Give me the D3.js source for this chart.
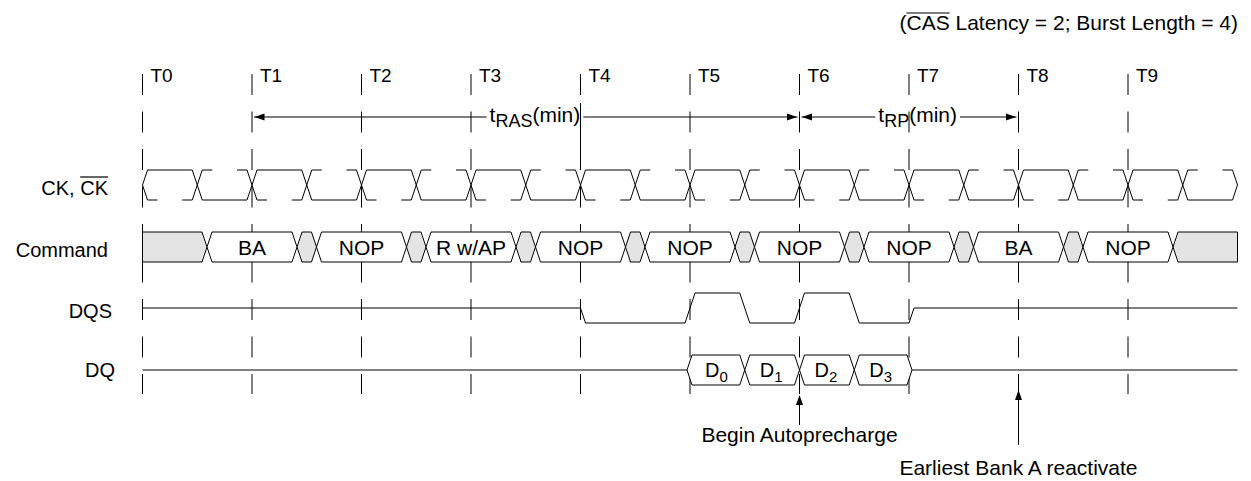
<!DOCTYPE html>
<html>
<head>
<meta charset="utf-8">
<script src="https://cdn.jsdelivr.net/npm/d3@7"></script>
<style>
  body { margin: 0; background: #fff; }
  svg text { font-family: "Liberation Sans", Arial, Helvetica, sans-serif; fill: #000; }
</style>
</head>
<body>
<div id="chart"></div>
<script>
// ---- data ----
const clockLabels = ['T0', 'T1', 'T2', 'T3', 'T4', 'T5', 'T6', 'T7', 'T8', 'T9'];
const commandCycles = [1, 2, 3, 4, 5, 6, 7, 8, 9];
const commands = ['BA', 'NOP', 'R w/AP', 'NOP', 'NOP', 'NOP', 'NOP', 'BA', 'NOP'];
const dqsCycles = [0, 4, 5, 5.5, 6, 6.5, 7];
const dqsStates = ['z', '0', '1', '0', '1', '0', 'z'];
const dqCycles = [5, 5.5, 6, 6.5];
const dqBits = ['0', '1', '2', '3'];
const spanNames = ['RAS', 'RP'];
const spanFrom = [1, 6];
const spanTo = [6, 8];
const markerTexts = ['Begin Autoprecharge', 'Earliest Bank A reactivate'];
const markerCycles = [6, 8];
const rowLabels = ['CK, CK', 'Command', 'DQS', 'DQ'];

// ---- layout ----
const W = 1251, H = 481;
const tr = 5;                 // half width of a transition, px
const ck = { hi: 170, lo: 200, mid: 185 };
const cmd = { top: 232, bot: 262, mid: 247, half: 45 };
const dqsY = { '1': 293, '0': 323, z: 308 };
const dq = { top: 355, bot: 385, mid: 370 };
const spanY = 117;
const spanLabelAt = [3.17, 6.72];
const rowLabelX = [108, 108, 112, 115];
const rowLabelY = [195, 257, 318, 377];

const svg = d3.select('#chart')
    .append('svg')
    .attr('width', W)
    .attr('height', H);

const x = d3.scaleLinear().domain([0, 10]).range([142.5, 1237.5]);

// vertical clock reference lines
svg.append('g')
    .selectAll('line')
    .data(clockLabels)
    .join('line')
    .attr('x1', (d, i) => x(i))
    .attr('x2', (d, i) => x(i))
    .attr('y1', 74)
    .attr('y2', 394)
    .attr('stroke', '#000')
    .attr('stroke-dasharray', '21,16.5');

// solid piece under tRAS at T4
svg.append('line')
    .attr('x1', x(4)).attr('x2', x(4))
    .attr('y1', 103).attr('y2', 168)
    .attr('stroke', '#000');

svg.append('g')
    .selectAll('text')
    .data(clockLabels)
    .join('text')
    .attr('x', (d, i) => x(i) + 8)
    .attr('y', 82)
    .style('font-size', '19px')
    .text(d => d);

// ---- clock ----
const ckPath = d3.path();
ckPath.moveTo(x(0), ck.mid);
ckPath.lineTo(x(0) + tr, ck.hi);
for (let i = 1; i < 20; i++) {
    const xe = x(i / 2);
    const from = i % 2 ? ck.hi : ck.lo;
    const to = i % 2 ? ck.lo : ck.hi;
    ckPath.lineTo(xe - tr, from);
    ckPath.lineTo(xe + tr, to);
}
ckPath.lineTo(x(10) - tr, ck.lo);
ckPath.lineTo(x(10), ck.mid);

svg.append('path')
    .attr('d', ckPath.toString())
    .attr('fill', 'none')
    .attr('stroke', '#000');

// CK# : only short pieces next to each transition
const dash = 10;
const ckbPath = d3.path();
ckbPath.moveTo(x(0), ck.mid);
ckbPath.lineTo(x(0) + tr, ck.lo);
ckbPath.lineTo(x(0) + tr + dash, ck.lo);
for (let i = 1; i < 20; i++) {
    const xe = x(i / 2);
    const from = i % 2 ? ck.lo : ck.hi;
    const to = i % 2 ? ck.hi : ck.lo;
    ckbPath.moveTo(xe - tr - dash, from);
    ckbPath.lineTo(xe - tr, from);
    ckbPath.lineTo(xe + tr, to);
    ckbPath.lineTo(xe + tr + dash, to);
}
ckbPath.moveTo(x(10) - tr - dash, ck.hi);
ckbPath.lineTo(x(10) - tr, ck.hi);
ckbPath.lineTo(x(10), ck.mid);

svg.append('path')
    .attr('d', ckbPath.toString())
    .attr('fill', 'none')
    .attr('stroke', '#000');

// ---- command bus ----
function hexagon(x0, x1, top, bot, mid) {
    return [[x0, mid], [x0 + tr, top], [x1 - tr, top], [x1, mid], [x1 - tr, bot], [x0 + tr, bot]];
}
const line = d3.line();
const grey = '#e4e4e4';

// grey (don't care) areas
const greyShapes = [];
greyShapes.push([[x(0), cmd.top], [x(commandCycles[0]) - cmd.half - tr, cmd.top],
    [x(commandCycles[0]) - cmd.half, cmd.mid], [x(commandCycles[0]) - cmd.half - tr, cmd.bot], [x(0), cmd.bot]]);
for (let i = 0; i < commandCycles.length - 1; i++) {
    greyShapes.push(hexagon(x(commandCycles[i]) + cmd.half, x(commandCycles[i + 1]) - cmd.half,
        cmd.top, cmd.bot, cmd.mid));
}
const lastC = x(commandCycles[commandCycles.length - 1]) + cmd.half;
greyShapes.push([[lastC, cmd.mid], [lastC + tr, cmd.top], [x(10), cmd.top], [x(10), cmd.bot], [lastC + tr, cmd.bot]]);

svg.append('g')
    .selectAll('path')
    .data(greyShapes)
    .join('path')
    .attr('d', d => line(d) + 'Z')
    .attr('fill', grey)
    .attr('stroke', '#000');

svg.append('g')
    .selectAll('path')
    .data(commandCycles)
    .join('path')
    .attr('d', c => line(hexagon(x(c) - cmd.half, x(c) + cmd.half, cmd.top, cmd.bot, cmd.mid)) + 'Z')
    .attr('fill', '#fff')
    .attr('stroke', '#000');

svg.append('g')
    .selectAll('text')
    .data(commands)
    .join('text')
    .attr('x', (d, i) => x(commandCycles[i]))
    .attr('y', 255)
    .attr('text-anchor', 'middle')
    .style('font-size', '21px')
    .text(d => d);

// ---- DQS ----
const dqsPath = d3.path();
dqsPath.moveTo(x(dqsCycles[0]), dqsY[dqsStates[0]]);
for (let i = 1; i < dqsCycles.length; i++) {
    const prev = dqsY[dqsStates[i - 1]];
    const next = dqsY[dqsStates[i]];
    const t = x(dqsCycles[i]);
    if (dqsStates[i - 1] === 'z' || dqsStates[i] === 'z') {
        dqsPath.lineTo(t, prev);
        dqsPath.lineTo(t + tr, next);
    } else {
        dqsPath.lineTo(t - tr, prev);
        dqsPath.lineTo(t + tr, next);
    }
}
dqsPath.lineTo(x(10), dqsY[dqsStates[dqsStates.length - 1]]);
svg.append('path')
    .attr('d', dqsPath.toString())
    .attr('fill', 'none')
    .attr('stroke', '#000');

// ---- DQ ----
const dqEnd = dqCycles[dqCycles.length - 1] + 0.5;
svg.append('path')
    .attr('d', line([[x(0), dq.mid], [x(dqCycles[0]) - 3, dq.mid]]) +
        line([[x(dqEnd) + 3, dq.mid], [x(10), dq.mid]]))
    .attr('fill', 'none')
    .attr('stroke', '#000');

svg.append('g')
    .selectAll('path')
    .data(dqCycles)
    .join('path')
    .attr('d', (c, i) => {
        const x0 = x(c) - (i === 0 ? 3 : 0);
        const x1 = x(c + 0.5) + (i === dqCycles.length - 1 ? 3 : 0);
        return line(hexagon(x0, x1, dq.top, dq.bot, dq.mid)) + 'Z';
    })
    .attr('fill', '#fff')
    .attr('stroke', '#000');

const dqText = svg.append('g')
    .selectAll('text')
    .data(dqBits)
    .join('text')
    .attr('x', (d, i) => (x(dqCycles[i]) + x(dqCycles[i] + 0.5)) / 2 - 1)
    .attr('y', 377)
    .attr('text-anchor', 'middle')
    .style('font-size', '20px');
dqText.append('tspan').text('D');
dqText.append('tspan').attr('dy', 5).style('font-size', '15px').text(d => d);

// ---- tRAS / tRP spans ----
spanNames.forEach((name, i) => {
    const g = svg.append('g');
    const a = x(spanFrom[i]), b = x(spanTo[i]);
    const label = g.append('text')
        .attr('x', x(spanLabelAt[i]))
        .attr('y', 122)
        .style('font-size', '21px');
    label.append('tspan').text('t');
    label.append('tspan').attr('dy', 5).style('font-size', '18px').text(name);
    label.append('tspan').attr('dy', -5).text('(min)');
    const bb = label.node().getBBox();
    g.append('path')
        .attr('d', line([[a + 2, spanY], [bb.x - 3, spanY]]) + line([[bb.x + bb.width + 3, spanY], [b - 2, spanY]]))
        .attr('stroke', '#000')
        .attr('fill', 'none');
    g.append('path')
        .attr('d', line([[a + 2.5, spanY], [a + 12.5, spanY - 3.5], [a + 12.5, spanY + 3.5]]) + 'Z')
        .attr('fill', '#000');
    g.append('path')
        .attr('d', line([[b - 2.5, spanY], [b - 12.5, spanY - 3.5], [b - 12.5, spanY + 3.5]]) + 'Z')
        .attr('fill', '#000');
});

// ---- bottom markers ----
const markerTip = [395, 390];
const markerTail = [425, 445];
const markerBase = [442, 475];
markerTexts.forEach((t, i) => {
    const mx = x(markerCycles[i]);
    svg.append('line')
        .attr('x1', mx).attr('x2', mx)
        .attr('y1', markerTip[i] + 8).attr('y2', markerTail[i])
        .attr('stroke', '#000');
    svg.append('path')
        .attr('d', line([[mx, markerTip[i]], [mx - 3.5, markerTip[i] + 10], [mx + 3.5, markerTip[i] + 10]]) + 'Z')
        .attr('fill', '#000');
    svg.append('text')
        .attr('x', mx)
        .attr('y', markerBase[i])
        .attr('text-anchor', 'middle')
        .style('font-size', '21px')
        .text(t);
});

// ---- row labels ----
function overline(textNode, start, count, y) {
    const x0 = textNode.getStartPositionOfChar(start).x;
    const x1 = textNode.getEndPositionOfChar(start + count - 1).x;
    svg.append('line')
        .attr('x1', x0).attr('x2', x1)
        .attr('y1', y).attr('y2', y)
        .attr('stroke', '#000')
        .attr('stroke-width', 1.2);
}

rowLabels.forEach((t, i) => {
    const el = svg.append('text')
        .attr('x', rowLabelX[i])
        .attr('y', rowLabelY[i])
        .attr('text-anchor', 'end')
        .style('font-size', '20px')
        .text(t);
    if (i === 0) overline(el.node(), 4, 2, 177);
});

// ---- note ----
const note = svg.append('text')
    .attr('x', 1238)
    .attr('y', 30)
    .attr('text-anchor', 'end')
    .style('font-size', '21px')
    .text('(CAS Latency = 2; Burst Length = 4)');
overline(note.node(), 1, 3, 13);
</script>
</body>
</html>
